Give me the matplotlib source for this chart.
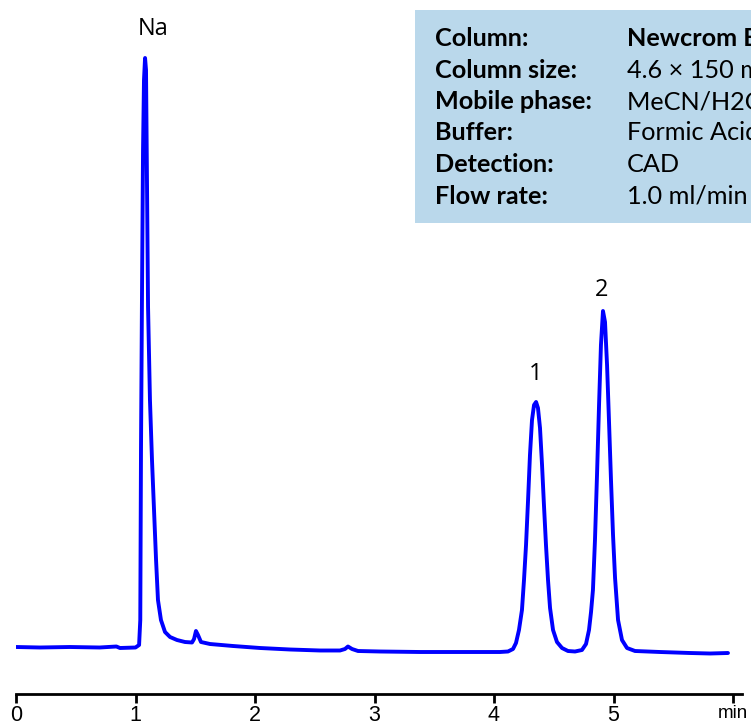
import matplotlib
matplotlib.use("Agg")
import matplotlib.pyplot as plt
from matplotlib.patches import Rectangle
from matplotlib.textpath import TextPath
from matplotlib.font_manager import FontProperties

# ---- data (time in min, detector signal in arbitrary units) ----
time_min = [0.000, 0.200, 0.450, 0.700, 0.840, 0.870, 1.000, 1.030, 1.040, 1.046,
            1.054, 1.063, 1.071, 1.080, 1.088, 1.096, 1.105, 1.121, 1.138, 1.155,
            1.172, 1.188, 1.213, 1.247, 1.289, 1.347, 1.414, 1.473, 1.490, 1.506,
            1.523, 1.548, 1.623, 1.816, 2.042, 2.293, 2.544, 2.711, 2.753, 2.778,
            2.812, 2.862, 3.046, 3.381, 3.715, 4.050, 4.117, 4.159, 4.184, 4.209,
            4.234, 4.251, 4.268, 4.285, 4.301, 4.318, 4.335, 4.352, 4.368, 4.385,
            4.402, 4.418, 4.435, 4.452, 4.469, 4.494, 4.527, 4.569, 4.619, 4.678,
            4.736, 4.770, 4.795, 4.812, 4.828, 4.845, 4.862, 4.879, 4.895, 4.912,
            4.929, 4.946, 4.962, 4.979, 4.996, 5.013, 5.038, 5.071, 5.113, 5.180,
            5.389, 5.640, 5.808, 5.958]
signal = [5.0, 4.5, 5.0, 4.5, 5.5, 4.0, 4.5, 7.0, 32.0, 202.0,
          352.0, 502.0, 572.0, 594.0, 582.0, 472.0, 345.0, 252.0, 192.0, 142.0,
          92.0, 52.0, 32.0, 20.0, 15.0, 12.0, 10.0, 9.5, 13.0, 21.0,
          17.0, 10.0, 8.0, 6.0, 4.0, 2.5, 1.5, 1.5, 3.0, 5.5,
          3.0, 1.0, 0.5, 0.0, 0.0, 0.0, 0.5, 3.0, 9.0, 22.0,
          42.0, 72.0, 107.0, 152.0, 197.0, 232.0, 247.0, 250.0, 244.0, 224.0,
          187.0, 147.0, 107.0, 72.0, 44.0, 22.0, 10.0, 4.0, 1.0, 0.5,
          2.0, 8.0, 22.0, 40.0, 62.0, 112.0, 177.0, 247.0, 307.0, 341.0,
          330.0, 287.0, 232.0, 172.0, 117.0, 74.0, 32.0, 12.0, 4.0, 1.0,
          0.0, -1.0, -1.5, -1.0]

peak_labels = ["Na", "1", "2"]
peak_label_t = [1.15, 4.345, 4.90]
peak_label_s = [617.0, 272.0, 356.0]

tick_values = [0, 1, 2, 3, 4, 5, 6]
tick_labels = ["0", "1", "2", "3", "4", "5", "min"]

info_keys = ["Column:", "Column size:", "Mobile phase:", "Buffer:", "Detection:", "Flow rate:"]
info_values = ["Newcrom BH", "4.6 \u00d7 150 mm, 5 \u00b5m, 100 \u00c5", "MeCN/H2O \u2013 20/80%",
               "Formic Acid \u2013 0.1%", "CAD", "1.0 ml/min"]

# ---- figure ----
W, H = 751, 726
fig = plt.figure(figsize=(W / 100, H / 100), dpi=100)

def fx(px):
    return px / W

def fy(py):
    return (H - py) / H

ax = fig.add_axes([fx(16), fy(694), fx(742) - fx(16), fy(0) - fy(694)])
ax.plot(time_min, signal, color="#0000FF", lw=2.8, solid_joinstyle="round",
        solid_capstyle="round")
ax.set_xlim(0, (742 - 16) / 119.5)
ax.set_ylim(-42, 652)

for sp in ["top", "right", "left"]:
    ax.spines[sp].set_visible(False)
ax.spines["bottom"].set_linewidth(2.0)
ax.set_yticks([])
ax.set_xticks(tick_values)
ax.set_xticklabels(tick_labels)
ax.tick_params(axis="x", direction="out", length=6.5, width=2.0, pad=1.5,
               labelsize=15.5)
for lab in ax.get_xticklabels():
    lab.set_family(["Liberation Sans Narrow", "Liberation Sans", "DejaVu Sans"])
ax.get_xticklabels()[-1].set_fontsize(13.5)

for lab, t, s in zip(peak_labels, peak_label_t, peak_label_s):
    ax.text(t, s, lab, ha="center", va="baseline", fontsize=17, family="Open Sans")

# ---- info box ----
fig.patches.append(Rectangle((fx(415), fy(223)), fx(800) - fx(415), fy(10) - fy(223),
                             transform=fig.transFigure, facecolor="#BAD8EB",
                             edgecolor="none", zorder=0))

bold = FontProperties(family="Lato", weight="bold")
w1 = TextPath((0, 0), "Mobile phase:", size=1, prop=bold).get_extents().width
fs = 154.0 * 0.72 / w1

baselines = [46, 77.5, 109, 140.5, 172, 204]
for k, v, b in zip(info_keys, info_values, baselines):
    fig.text(fx(435), fy(b), k, fontsize=fs, family="Lato", weight="bold",
             va="baseline", ha="left")
    fig.text(fx(627), fy(b), v, fontsize=fs, family="Lato",
             weight="bold" if k == "Column:" else "normal",
             va="baseline", ha="left")

fig.savefig("out.png", dpi=100)
